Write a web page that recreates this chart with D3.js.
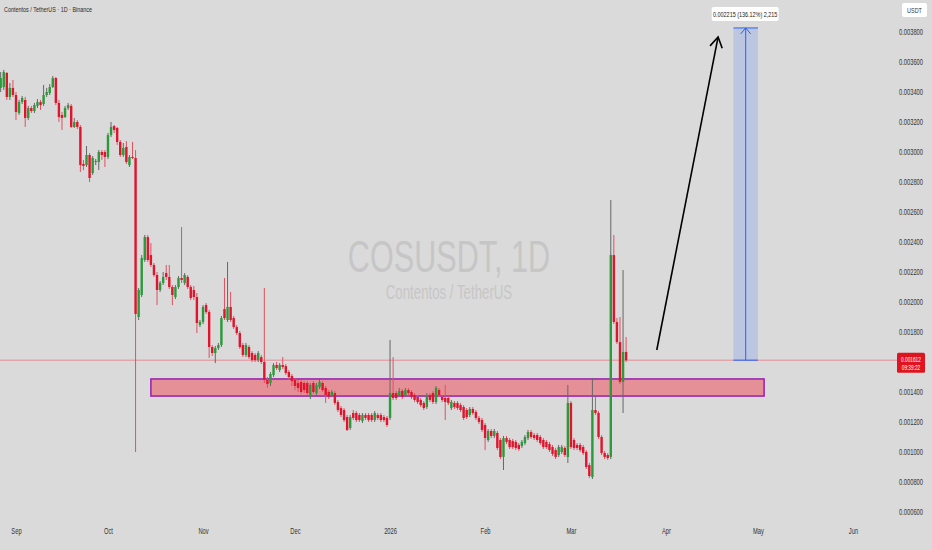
<!DOCTYPE html>
<html><head><meta charset="utf-8">
<script src="https://cdn.jsdelivr.net/npm/d3@7"></script>
<style>
html,body{margin:0;padding:0;background:#dadada;}
svg{display:block;font-family:"Liberation Sans",Arial,sans-serif;}
</style></head><body>
<svg id="chart" width="932" height="550"></svg>
<script>
// prices in millionths of USDT (1e-6)
const firstDay = "2025-08-27";
const open = [
3427,3433,3527,3367,3427,3380,3260,3333,3347,3227,
3293,3273,3307,3333,3320,3380,3393,3433,3493,3327,
3247,3233,3293,3307,3167,3200,3167,2920,2913,2980,
2860,2933,2933,3000,3000,2967,3113,3173,3160,3067,
2980,3033,2913,2967,2960,1900,2047,2280,2433,2313,
2247,2180,2080,2127,2193,2167,2100,2033,2100,2160,
2127,2167,2100,2080,2033,1847,1867,1980,1933,1700,
1660,1693,1713,1953,1880,1967,1893,1833,1793,1713,
1647,1700,1660,1647,1613,1633,1600,1480,1460,1513,
1580,1547,1580,1573,1533,1507,1480,1460,1467,1460,
1460,1367,1460,1393,1433,1460,1427,1400,1380,1393,
1333,1293,1280,1233,1160,1260,1260,1247,1207,1247,
1247,1247,1213,1247,1247,1233,1227,1227,1393,1393,
1380,1407,1380,1413,1400,1380,1367,1347,1327,1300,
1380,1393,1333,1413,1367,1360,1360,1293,1327,1327,
1313,1300,1280,1247,1287,1267,1227,1213,1180,1080,
1140,1107,1127,1080,967,1093,1080,1073,1067,1047,
1040,1060,1093,1133,1113,1113,1100,1080,1067,1053,
1033,1013,980,1000,1027,967,1327,1080,1047,1047,
1033,1000,913,833,1280,1260,1100,993,980,967,
2313,1867,1733,1467,1667];
const high = [
3533,3547,3533,3460,3480,3400,3347,3373,3367,3307,
3307,3327,3353,3347,3447,3427,3453,3507,3500,3347,
3267,3307,3327,3320,3227,3213,3180,2947,3040,2993,
2973,2953,3013,3013,3013,3127,3200,3180,3167,3080,
3060,3073,2980,3067,3013,2093,2313,2447,2447,2393,
2260,2200,2140,2200,2247,2247,2113,2113,2173,2500,
2193,2180,2113,2107,2060,1880,1980,1993,1947,1713,
1707,1727,1907,2160,2267,2067,1907,1847,1807,1727,
1727,1713,1673,1660,1673,1647,2093,1500,1533,1593,
1600,1593,1633,1587,1547,1520,1493,1480,1480,1473,
1473,1460,1473,1460,1493,1473,1440,1413,1413,1407,
1347,1307,1293,1247,1247,1280,1273,1260,1260,1260,
1260,1260,1273,1260,1260,1247,1240,1747,1633,1407,
1427,1420,1427,1427,1413,1393,1380,1360,1340,1393,
1393,1407,1440,1427,1380,1447,1373,1347,1340,1340,
1327,1313,1293,1300,1300,1280,1240,1227,1193,1153,
1153,1153,1140,1093,1107,1107,1093,1087,1080,1060,
1080,1113,1147,1147,1127,1127,1113,1093,1080,1067,
1047,1027,1047,1047,1040,1447,1340,1093,1060,1060,
1047,1013,927,1493,1367,1273,1113,1007,993,2680,
2447,1893,1900,2213,1767];
const low = [
3400,3413,3347,3347,3367,3213,3247,3320,3167,3213,
3260,3260,3293,3280,3307,3367,3380,3427,3313,3200,
3147,3227,3280,3160,3160,3153,2867,2880,2900,2800,
2847,2913,2880,2947,2900,2953,3100,3127,3047,2967,
2967,2920,2900,2953,1000,1880,2033,2267,2267,2233,
2167,1980,2067,2113,2147,2087,1980,2020,2087,2127,
2113,2087,2013,2013,1793,1833,1853,1920,1627,1640,
1593,1680,1700,1880,1867,1867,1820,1780,1687,1633,
1633,1620,1600,1600,1600,1587,1460,1427,1440,1500,
1547,1533,1553,1513,1480,1440,1413,1400,1387,1393,
1373,1353,1387,1380,1420,1400,1327,1353,1367,1313,
1267,1233,1200,1140,1147,1213,1200,1200,1193,1213,
1200,1200,1200,1213,1200,1200,1167,1213,1347,1347,
1367,1353,1367,1380,1353,1333,1320,1300,1280,1287,
1333,1320,1320,1367,1333,1213,1313,1280,1287,1280,
1267,1213,1220,1233,1247,1213,1187,1133,1013,1067,
1093,1093,1013,953,880,1053,1020,1020,1013,1007,
1027,1047,1080,1087,1080,1067,1047,1020,1020,1000,
973,953,967,987,967,927,1020,1013,1013,1000,
980,887,827,820,1247,1087,980,953,947,953,
1853,1720,1453,1260,1600];
const close = [
3493,3533,3367,3427,3380,3267,3333,3360,3227,3293,
3273,3313,3333,3313,3380,3400,3433,3493,3327,3233,
3227,3293,3313,3167,3200,3167,2913,2907,2980,2827,
2960,2940,3000,2980,2967,3113,3167,3147,3067,2980,
3027,2933,2967,2960,1920,2080,2293,2433,2280,2247,
2180,2080,2127,2167,2167,2100,2047,2100,2160,2147,
2180,2100,2027,2033,1860,1867,1967,1933,1700,1660,
1693,1713,1893,1893,1967,1880,1833,1793,1700,1647,
1713,1633,1613,1613,1660,1600,1480,1453,1520,1580,
1560,1580,1567,1527,1500,1473,1440,1427,1400,1413,
1393,1447,1400,1447,1467,1413,1380,1367,1400,1327,
1280,1247,1213,1147,1233,1227,1213,1213,1247,1227,
1213,1213,1260,1227,1213,1213,1180,1393,1360,1360,
1407,1367,1413,1393,1367,1347,1333,1313,1293,1380,
1347,1333,1427,1380,1347,1333,1327,1333,1300,1293,
1280,1227,1233,1287,1260,1227,1200,1147,1093,1140,
1107,1140,1027,967,1093,1067,1033,1033,1027,1020,
1067,1100,1133,1100,1093,1080,1060,1033,1033,1013,
987,967,1033,1033,980,1327,1033,1027,1027,1013,
993,900,840,1280,1260,1100,993,967,960,2313,
1867,1733,1467,1667,1612];

const monthTicks = ["2025-09-01","2025-10-01","2025-11-01","2025-12-01","2026-01-01","2026-02-01","2026-03-01","2026-04-01","2026-05-01","2026-06-01"];
const monthLabels = ["Sep","Oct","Nov","Dec","2026","Feb","Mar","Apr","May","Jun"];
// 0.001600 is hidden behind the last-price label in the reference
const priceTicks = [600,800,1000,1200,1400,1800,2000,2200,2400,2600,2800,3000,3200,3400,3600,3800];
const lastPrice = 1612;
const countdown = "09:39:22";
const zoneDates = ["2025-10-15","2026-05-03"];
const zonePrices = [1373,1487];
const arrowDates = ["2026-03-29","2026-04-18"];
const arrowPrices = [1680,3767];
const measureDates = ["2026-04-23","2026-05-01"];
const measureBase = 1612;
const measureChange = 2215;
const measurePct = "136.12%";
const symbol = "COSUSDT, 1D";
const pairName = "Contentos / TetherUS";
const titleText = "Contentos / TetherUS · 1D · Binance";

const SX = 0.68;
const P = d3.utcParse("%Y-%m-%d");
const t0 = P(firstDay);
const svg = d3.select("#chart");
const x = d3.scaleUtc().domain([t0, P("2026-06-01")]).range([0.67, 853]);
const y = d3.scaleLinear().domain([600, 3800]).range([512, 32]);
const fmt = v => (v / 1e6).toFixed(6);

svg.append("rect").attr("width", 932).attr("height", 550).attr("fill", "#dadada");

function sqText(g, px, py, txt, size, fill, anchor, weight) {
  return g.append("text")
    .attr("transform", `translate(${px},${py}) scale(${SX},1)`)
    .attr("text-anchor", anchor || "start")
    .attr("font-size", size).attr("fill", fill)
    .attr("font-weight", weight || "normal")
    .text(txt);
}

// watermark
sqText(svg, 449, 272, symbol, 45, "#c6c6c6", "middle");
sqText(svg, 449, 299, pairName, 19.5, "#c6c6c6", "middle");

// title
sqText(svg, 4, 12, titleText, 8, "#2b2b2b", "start");

// zone
const zx0 = x(P(zoneDates[0])), zx1 = x(P(zoneDates[1]));
svg.append("rect").attr("x", zx0).attr("y", y(zonePrices[1]))
  .attr("width", zx1 - zx0).attr("height", y(zonePrices[0]) - y(zonePrices[1]))
  .attr("fill", "rgba(242,54,69,0.45)").attr("stroke", "#9c27b0").attr("stroke-width", 1.6);

// last price line
svg.append("line").attr("x1", 0).attr("x2", 897).attr("y1", y(lastPrice)).attr("y2", y(lastPrice))
  .attr("stroke", "#e57b86").attr("stroke-width", 0.8);

// candles
const data = close.map((c, i) => ({ d: d3.utcDay.offset(t0, i), o: open[i], h: high[i], l: low[i], c }));
const cg = svg.append("g");
const up = "#2a9a3a", dn = "#e0142c";
cg.selectAll("line.w").data(data).join("line").attr("class", "w")
  .attr("x1", d => x(d.d)).attr("x2", d => x(d.d))
  .attr("y1", d => y(d.h)).attr("y2", d => y(d.l))
  .attr("stroke", d => d.c >= d.o ? "#666" : "#e2505e").attr("stroke-width", 1);
cg.selectAll("rect.b").data(data).join("rect").attr("class", "b")
  .attr("x", d => x(d.d) - 1.2).attr("width", 2.4)
  .attr("y", d => y(Math.max(d.o, d.c)))
  .attr("height", d => Math.max(0.9, Math.abs(y(d.o) - y(d.c))))
  .attr("fill", d => d.c >= d.o ? up : dn);

// arrow
const ax0 = x(P(arrowDates[0])), ay0 = y(arrowPrices[0]);
const ax1 = x(P(arrowDates[1])), ay1 = y(arrowPrices[1]);
svg.append("line").attr("x1", ax0).attr("y1", ay0).attr("x2", ax1).attr("y2", ay1)
  .attr("stroke", "#000").attr("stroke-width", 1.6);
const ang = Math.atan2(ay1 - ay0, ax1 - ax0);
const hl = 12;
svg.append("path").attr("d", `M${ax1 + hl * Math.cos(ang + 2.6)},${ay1 + hl * Math.sin(ang + 2.6)}L${ax1},${ay1}L${ax1 + hl * Math.cos(ang - 2.6)},${ay1 + hl * Math.sin(ang - 2.6)}`)
  .attr("fill", "none").attr("stroke", "#000").attr("stroke-width", 1.6);

// measure
const mx0 = x(P(measureDates[0])), mx1 = x(P(measureDates[1]));
const my0 = y(measureBase), my1 = y(measureBase + measureChange);
const mcx = (mx0 + mx1) / 2;
svg.append("rect").attr("x", mx0).attr("y", my1).attr("width", mx1 - mx0).attr("height", my0 - my1)
  .attr("fill", "rgba(41,98,255,0.17)");
svg.append("line").attr("x1", mx0).attr("x2", mx1).attr("y1", my1).attr("y2", my1).attr("stroke", "#2962ff").attr("stroke-width", 1);
svg.append("line").attr("x1", mx0).attr("x2", mx1).attr("y1", my0).attr("y2", my0).attr("stroke", "#2962ff").attr("stroke-width", 1);
svg.append("line").attr("x1", mcx).attr("x2", mcx).attr("y1", my0).attr("y2", my1).attr("stroke", "#2962ff").attr("stroke-width", 1);
svg.append("path").attr("d", `M${mcx - 5},${my1 + 6}L${mcx},${my1}L${mcx + 5},${my1 + 6}`)
  .attr("fill", "none").attr("stroke", "#2962ff").attr("stroke-width", 1);
svg.append("rect").attr("x", mcx - 34).attr("y", 7).attr("width", 67).attr("height", 14).attr("rx", 2)
  .attr("fill", "#ffffff");
sqText(svg, mcx - 0.5, 17, `${fmt(measureChange)} (${measurePct}) ${d3.format(",")(measureChange)}`, 8, "#222", "middle");

// y axis
const yAxis = svg.append("g").attr("transform", "translate(897,0)")
  .call(d3.axisRight(y).tickValues(priceTicks).tickSize(0).tickPadding(2).tickFormat(fmt));
yAxis.select(".domain").remove();
yAxis.selectAll("text").attr("font-size", 8.5).attr("fill", "#333")
  .attr("font-family", "'Liberation Sans',Arial,sans-serif")
  .attr("transform", `scale(${SX},1)`).attr("x", 2 / SX);

// x axis
const xAxis = svg.append("g").attr("transform", "translate(0,528)")
  .call(d3.axisBottom(x).tickValues(monthTicks.map(P)).tickSize(0).tickPadding(0)
    .tickFormat((d, i) => monthLabels[i]));
xAxis.select(".domain").remove();
xAxis.selectAll("text").attr("font-size", 8.5).attr("fill", "#333")
  .attr("font-family", "'Liberation Sans',Arial,sans-serif")
  .attr("transform", `scale(${SX},1)`);

// USDT box
svg.append("rect").attr("x", 902).attr("y", 3).attr("width", 25).attr("height", 14).attr("rx", 2).attr("fill", "#fff");
sqText(svg, 914.5, 13, "USDT", 8, "#333", "middle");

// last price label
const ly = y(lastPrice);
svg.append("rect").attr("x", 897).attr("y", ly - 7.5).attr("width", 28).attr("height", 20).attr("rx", 1.5).attr("fill", "#e0141e");
sqText(svg, 911, ly + 1.5, fmt(lastPrice), 7, "#fff", "middle");
sqText(svg, 911, ly + 10, countdown, 7, "#fff", "middle");
</script>
</body></html>
